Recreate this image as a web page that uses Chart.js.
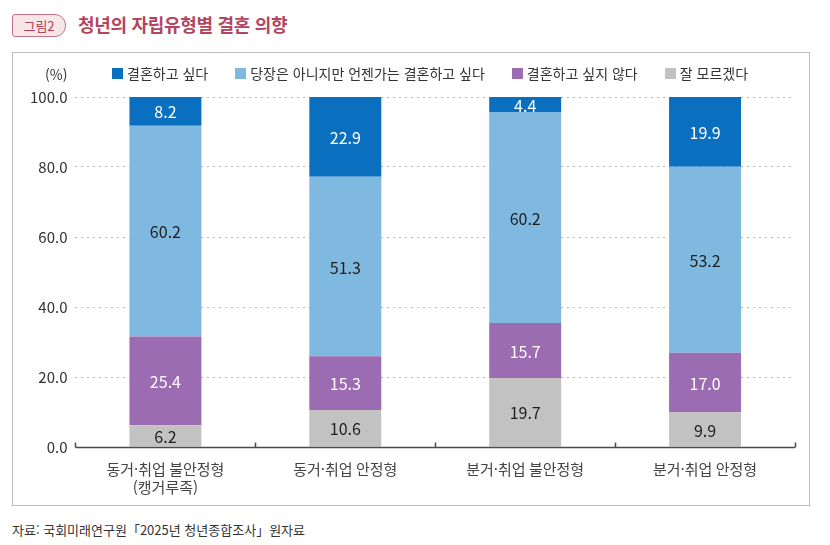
<!DOCTYPE html>
<html lang="ko">
<head>
<meta charset="utf-8">
<script src="https://cdn.jsdelivr.net/npm/chart.js@4.4.1/dist/chart.umd.min.js"></script>
<style>
  html, body { margin: 0; padding: 0; background: #fff; }
  body { width: 830px; height: 545px; position: relative; overflow: hidden;
         font-family: "Noto Sans CJK KR", "Noto Sans", sans-serif; }
  .tag { position: absolute; left: 12px; top: 14px; width: 52px; height: 21px;
         border: 1px solid #c27283; border-radius: 3px 11px 11px 3px; background: #f9e6e9;
         color: #b0435c; font-size: 13px; line-height: 21px; text-align: center; }
  .title { position: absolute; left: 78px; top: 11px; color: #b3455e; font-size: 18px;
           font-weight: bold; letter-spacing: -0.3px; }
  .frame { position: absolute; left: 12px; top: 52px; width: 798px; height: 454px;
           border: 1px solid #bdbdbd; box-sizing: border-box; }
  .unit { position: absolute; left: 45px; top: 64px; font-size: 14px; color: #333; }
  .legend { position: absolute; left: 112px; top: 63px; display: flex; gap: 27px;
            font-size: 14px; color: #333; }
  .legend span { display: flex; align-items: center; }
  .legend i { display: inline-block; width: 11px; height: 11px; margin-right: 4px; }
  .source { position: absolute; left: 12px; top: 520px; font-size: 13px; color: #333; }
  #wrap { position: absolute; left: 13px; top: 53px; width: 796px; height: 452px; }
</style>
</head>
<body>
<div class="tag">그림2</div>
<div class="title">청년의 자립유형별 결혼 의향</div>
<div class="frame"></div>
<div id="wrap"><canvas id="chart"></canvas></div>
<div class="unit">(%)</div>
<div class="legend" id="legend"></div>
<div class="source">자료: 국회미래연구원「2025년 청년종합조사」원자료</div>

<script>
// categories (x axis)
const categories = [
  ['동거·취업 불안정형', '(캥거루족)'],
  '동거·취업 안정형',
  '분거·취업 불안정형',
  '분거·취업 안정형',
];

// series values, %
const wantMarry    = [8.2, 22.9, 4.4, 19.9];
const someday      = [60.2, 51.3, 60.2, 53.2];
const notWant      = [25.4, 15.3, 15.7, 17.0];
const dontKnow     = [6.2, 10.6, 19.7, 9.9];

const yTicks = [0, 20, 40, 60, 80, 100];

const FONT = '"Noto Sans CJK KR", "Noto Sans", sans-serif';

// legend order (top of stack first)
const series = [
  { label: '결혼하고 싶다', data: wantMarry, color: '#0b6fbf', text: '#ffffff' },
  { label: '당장은 아니지만 언젠가는 결혼하고 싶다', data: someday, color: '#80b9e0', text: '#1e1e1e' },
  { label: '결혼하고 싶지 않다', data: notWant, color: '#9b6cb2', text: '#ffffff' },
  { label: '잘 모르겠다', data: dontKnow, color: '#c2c2c2', text: '#1e1e1e' },
];

// html legend
const legendEl = document.getElementById('legend');
series.forEach(s => {
  const el = document.createElement('span');
  el.innerHTML = `<i style="background:${s.color}"></i>${s.label}`;
  legendEl.appendChild(el);
});

// segment value labels
const segLabels = {
  id: 'segLabels',
  afterDatasetsDraw(chart) {
    const { ctx } = chart;
    ctx.save();
    ctx.font = '16px ' + FONT;
    ctx.textAlign = 'center';
    ctx.textBaseline = 'middle';
    chart.data.datasets.forEach((ds, di) => {
      chart.getDatasetMeta(di).data.forEach((bar, i) => {
        const { x, y, base } = bar.getProps(['x', 'y', 'base'], true);
        ctx.fillStyle = ds.textColor;
        ctx.fillText(ds.data[i].toFixed(1), x, (y + base) / 2 + 1);
      });
    });
    ctx.restore();
  }
};

// x axis with upward ticks at category boundaries
const xAxisLine = {
  id: 'xAxisLine',
  afterDraw(chart) {
    const { ctx, chartArea } = chart;
    const xs = chart.scales.x;
    const yb = Math.round(chart.scales.y.getPixelForValue(0)) + 0.5;
    const half = (xs.getPixelForValue(1) - xs.getPixelForValue(0)) / 2;
    ctx.save();
    ctx.strokeStyle = '#4a4a4a';
    ctx.lineWidth = 1.5;
    ctx.beginPath();
    ctx.moveTo(chartArea.left, yb);
    ctx.lineTo(chartArea.right, yb);
    for (let i = 0; i <= categories.length; i++) {
      const x = Math.round(xs.getPixelForValue(0) - half + i * half * 2) + 0.5;
      ctx.moveTo(x, yb);
      ctx.lineTo(x, yb - 5);
    }
    ctx.stroke();
    ctx.restore();
  }
};

new Chart(document.getElementById('chart'), {
  type: 'bar',
  data: {
    labels: categories,
    datasets: series.slice().reverse().map(s => ({
      label: s.label,
      data: s.data,
      backgroundColor: s.color,
      textColor: s.text,
      barPercentage: 0.8,
      categoryPercentage: 0.5,
      borderWidth: 0,
    })),
  },
  options: {
    responsive: true,
    maintainAspectRatio: false,
    animation: false,
    layout: { padding: { top: 44, right: 14, left: 9, bottom: 4 } },
    plugins: {
      legend: { display: false },
      tooltip: { enabled: false },
    },
    scales: {
      x: {
        stacked: true,
        grid: { display: false },
        border: { display: false },
        ticks: {
          font: { size: 15, family: FONT },
          color: '#444',
          padding: 5,
          maxRotation: 0,
        },
      },
      y: {
        stacked: true,
        min: 0,
        max: 100,
        afterBuildTicks: axis => { axis.ticks = yTicks.map(v => ({ value: v })); },
        grid: {
          color: ctx => ctx.tick.value === 0 ? 'rgba(0,0,0,0)' : '#b8b8b8',
          lineWidth: 1,
          drawTicks: false,
        },
        border: { display: false, dash: [2, 4] },
        ticks: {
          font: { size: 15, family: FONT },
          color: '#333',
          padding: 8,
          callback: v => Number(v).toFixed(1),
        },
      },
    },
  },
  plugins: [segLabels, xAxisLine],
});
</script>
</body>
</html>
